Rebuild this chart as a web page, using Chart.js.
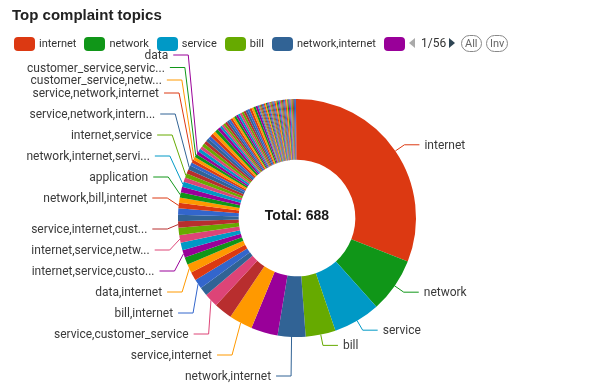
<!DOCTYPE html>
<html>
<head>
<meta charset="utf-8">
<title>Top complaint topics</title>
<script src="https://cdn.jsdelivr.net/npm/chart.js@4.4.0/dist/chart.umd.min.js"></script>
<style>
  html, body { margin: 0; padding: 0; background: #fff; }
  #wrap { position: relative; width: 589px; height: 392px; overflow: hidden; font-family: Roboto, "Liberation Sans", sans-serif; }
  #chart { position: absolute; left: 0; top: 0; }
  #title { position: absolute; left: 12px; top: 6px; font-family: "Liberation Sans", Arial, sans-serif; font-weight: bold; font-size: 15px; line-height: 18px; color: #222; }
  #legend { position: absolute; left: 14px; top: 36px; width: 392px; height: 15px; overflow: hidden; display: flex; align-items: center; white-space: nowrap; }
  .item { display: flex; align-items: center; margin-right: 8px; font-size: 11px; color: #333; flex-shrink: 0; }
  .swatch { width: 21px; height: 14px; border-radius: 4px; margin-right: 4px; }
  .tri { position: absolute; top: 38px; width: 0; height: 0; border-top: 5.5px solid transparent; border-bottom: 5.5px solid transparent; }
  #prev { left: 409px; border-right: 6px solid #aaa; }
  #next { left: 449px; border-left: 6px solid #2f4554; }
  #page { position: absolute; left: 421px; top: 36px; font-size: 12px; line-height: 15px; color: #333; }
  .sel { position: absolute; top: 35px; height: 15px; line-height: 15px; padding: 0 3px; border: 1px solid #888; border-radius: 9px; font-size: 11px; color: #666; }
</style>
</head>
<body>
<div id="wrap">
  <canvas id="chart" width="589" height="392"></canvas>
  <div id="title">Top complaint topics</div>
  <div id="legend"></div>
  <div class="tri" id="prev"></div>
  <div id="page"></div>
  <div class="tri" id="next"></div>
  <div class="sel" style="left:461px">All</div>
  <div class="sel" style="left:486px">Inv</div>
</div>
<script>
// complaint topics, largest first
const topics = [
  "internet", "network", "service", "bill", "network,internet",
  "internet,network", "service,internet", "customer_service", "service,customer_service", "internet,bill",
  "bill,internet", "network,service", "data,internet", "internet,data", "internet,service,customer_service",
  "bill,network", "internet,service,network", "network,bill", "service,internet,customer_service", "service,network",
  "internet,customer_service", "network,bill,internet", "bill,service", "application", "internet,network,service",
  "network,internet,service", "service,bill", "internet,service", "data,network", "service,network,internet,bill",
  "customer_service,internet", "service,network,internet", "customer_service,network,internet", "customer_service,service,internet", "data",
  "network,data", "bill,customer_service", "application,internet", "internet,application", "data,service",
  "service,data", "network,customer_service", "customer_service,bill", "bill,network,internet", "internet,bill,network",
  "service,bill,internet", "network,service,internet", "internet,network,bill", "data,network,internet", "application,network",
  "network,application", "service,application", "application,service", "bill,data", "data,bill",
  "customer_service,data", "data,customer_service", "internet,data,network", "bill,service,internet", "service,internet,bill",
  "network,internet,bill", "internet,bill,service", "customer_service,network", "network,customer_service,internet", "service,customer_service,internet",
  "internet,customer_service,service", "bill,internet,service", "data,internet,service", "application,bill", "bill,application",
  "application,data", "data,application", "customer_service,application", "application,customer_service", "network,data,internet",
  "service,data,internet", "internet,network,data", "bill,internet,network", "service,bill,network", "network,service,bill",
  "customer_service,bill,internet", "internet,customer_service,bill", "application,internet,network", "network,internet,application", "data,service,network",
  "service,network,data", "bill,network,service", "customer_service,internet,network", "network,customer_service,service", "service,customer_service,network",
  "internet,service,bill", "data,bill,internet", "application,service,internet", "bill,customer_service,service", "network,service,customer_service",
  "internet,application,service", "customer_service,service,network", "data,internet,network,service", "bill,internet,network,service", "service,internet,network,bill",
  "customer_service,internet,bill", "network,internet,service,bill"
];

const counts = [
  213, 51, 44, 28, 26, 25, 22, 17, 13, 8,
  9, 8, 8, 7, 7, 7, 7, 7, 6, 6,
  6, 5, 5, 5, 5, 5, 4, 4, 4, 4,
  3, 3, 3, 3, 3, 3, 3, 3, 3, 3,
  3, 3, 3, 3, 3, 2, 2, 2, 2, 2,
  2, 2, 2, 2, 2, 2, 2, 2, 2, 2,
  2, 2, 2, 2, 2, 1, 1, 1, 1, 1,
  1, 1, 1, 1, 1, 1, 1, 1, 1, 1,
  1, 1, 1, 1, 1, 1, 1, 1, 1, 1,
  1, 1, 1, 1, 1, 1, 1, 1, 1, 1,
  1, 1
];

// slices whose outside label survives in the picture
const labelledTopics = [
  "internet", "network", "service", "bill", "network,internet", "service,internet",
  "service,customer_service", "bill,internet", "data,internet", "internet,service,customer_service",
  "internet,service,network", "service,internet,customer_service", "network,bill,internet", "application",
  "network,internet,service", "internet,service", "service,network,internet,bill", "service,network,internet",
  "customer_service,network,internet", "customer_service,service,internet", "data"
];

const legendPageCount = 56;
const legendPerPage = 6;

const leadColors = ["#dc3912", "#109618", "#0099c6", "#66aa00", "#316395", "#990099", "#ff9900", "#b82e2e", "#dd4477"];
const cycleColors = ["#316395", "#3366cc", "#dc3912", "#ff9900", "#109618", "#990099", "#0099c6", "#dd4477", "#66aa00", "#b82e2e"];
const sliceColors = topics.map((t, i) => i < leadColors.length ? leadColors[i] : cycleColors[(i - leadColors.length) % cycleColors.length]);

// legend (first page only) + pager
const legendBox = document.getElementById("legend");
topics.slice(0, legendPerPage).forEach((t, i) => {
  const item = document.createElement("div");
  item.className = "item";
  item.innerHTML = `<span class="swatch" style="background:${sliceColors[i]}"></span><span>${t}</span>`;
  legendBox.appendChild(item);
});
document.getElementById("page").textContent = `1/${legendPageCount}`;

const LEN1 = 11, LEN2 = 15, TEXT_GAP = 5;
const LABEL_FONT = "12px Roboto, 'Liberation Sans', sans-serif";

function fitText(ctx, text, maxW) {
  if (ctx.measureText(text).width <= maxW) return text;
  let s = text;
  while (s.length > 1 && ctx.measureText(s + "...").width > maxW) s = s.slice(0, -1);
  return s + "...";
}

// push labels apart on one side of the ring, then bend x back onto an ellipse
function layoutSide(list, cx, cy, gap) {
  if (!list.length) return;
  let moved = false;
  const below = list.filter(it => it.ey >= cy).sort((a, b) => a.ey - b.ey);
  const above = list.filter(it => it.ey < cy).sort((a, b) => b.ey - a.ey);
  let prev = cy + 11 - gap;
  below.forEach(it => { it.ly = Math.max(it.ey, prev + gap); prev = it.ly; });
  prev = cy - 20 + gap;
  above.forEach(it => { it.ly = Math.min(it.ey, prev - gap); prev = it.ly; });
  let last = -Infinity;
  above.slice().reverse().forEach((it, k) => {
    it.ly = Math.max(it.ly, k === 0 ? 55 : last + 12.5);
    last = it.ly;
  });
  list.forEach(it => { if (Math.abs(it.ly - it.ey) > 0.5) moved = true; it.lx = it.ex; });
  if (!moved) return;
  [below, above].forEach(semi => {
    if (!semi.length) return;
    const far = semi.reduce((a, b) => Math.abs(b.ly - cy) > Math.abs(a.ly - cy) ? b : a);
    const rA = far.r + LEN1;
    const dxN = Math.abs(far.ex - cx), dyF = Math.abs(far.ly - cy);
    const rB = dxN < rA ? Math.sqrt(dyF * dyF / (1 - dxN * dxN / (rA * rA))) : rA;
    semi.forEach(it => {
      const dy = Math.abs(it.ly - cy);
      const dx = rA * Math.sqrt(Math.max(0, 1 - dy * dy / (rB * rB)));
      it.lx = cx + dx * it.dir;
    });
  });
}

const sliceLabels = {
  id: "sliceLabels",
  afterDraw(chart) {
    const ctx = chart.ctx;
    const meta = chart.getDatasetMeta(0);
    const items = [];
    let cx = 0, cy = 0;
    meta.data.forEach((arc, i) => {
      if (!labelledTopics.includes(topics[i])) return;
      const p = arc.getProps(["x", "y", "startAngle", "endAngle", "outerRadius"], true);
      const mid = (p.startAngle + p.endAngle) / 2;
      const c = Math.cos(mid), s = Math.sin(mid);
      cx = p.x; cy = p.y;
      items.push({
        i, dir: c < 0 ? -1 : 1, r: p.outerRadius,
        ax: p.x + p.outerRadius * c, ay: p.y + p.outerRadius * s,
        ex: p.x + (p.outerRadius + LEN1) * c, ey: p.y + (p.outerRadius + LEN1) * s
      });
    });
    layoutSide(items.filter(it => it.dir < 0), cx, cy, 21);
    layoutSide(items.filter(it => it.dir > 0), cx, cy, 15);

    ctx.save();
    ctx.font = LABEL_FONT;
    ctx.textBaseline = "middle";
    items.forEach(it => {
      const endX = it.lx + it.dir * LEN2;
      ctx.strokeStyle = sliceColors[it.i];
      ctx.lineWidth = 1;
      ctx.beginPath();
      ctx.moveTo(it.ax, it.ay);
      ctx.lineTo(it.lx, it.ly);
      ctx.lineTo(endX, it.ly);
      ctx.stroke();
      const tx = endX + it.dir * TEXT_GAP;
      const room = it.dir < 0 ? tx - 26 : chart.width - 10 - tx;
      ctx.fillStyle = "#3a3a3a";
      ctx.textAlign = it.dir < 0 ? "right" : "left";
      ctx.fillText(fitText(ctx, topics[it.i], room), tx, it.ly + 1);
    });
    ctx.restore();
  }
};

const centerTotal = {
  id: "centerTotal",
  afterDraw(chart) {
    const arc = chart.getDatasetMeta(0).data[0];
    const total = counts.reduce((a, b) => a + b, 0);
    const ctx = chart.ctx;
    ctx.save();
    ctx.font = "bold 14px 'Liberation Sans', Arial, sans-serif";
    ctx.fillStyle = "#1a1a1a";
    ctx.textAlign = "center";
    ctx.textBaseline = "middle";
    ctx.fillText("Total: " + total, arc.x, arc.y - 2);
    ctx.restore();
  }
};

new Chart(document.getElementById("chart"), {
  type: "doughnut",
  data: {
    labels: topics,
    datasets: [{ data: counts, backgroundColor: sliceColors, borderWidth: 0 }]
  },
  options: {
    responsive: false,
    animation: false,
    cutout: "49%",
    layout: { padding: { left: 178, right: 173, top: 99, bottom: 55 } },
    plugins: { legend: { display: false }, tooltip: { enabled: false } }
  },
  plugins: [sliceLabels, centerTotal]
});
</script>
</body>
</html>
